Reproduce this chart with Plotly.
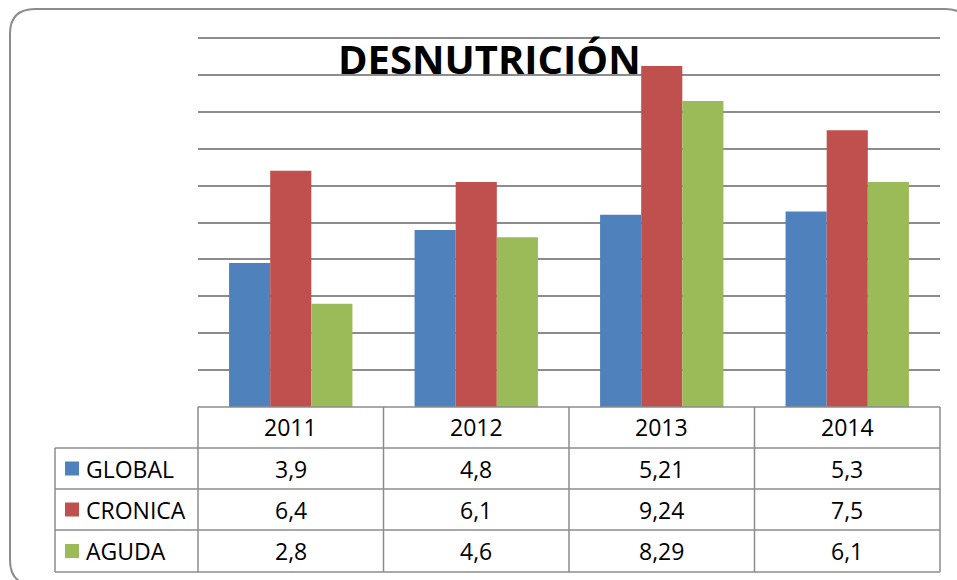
import plotly.graph_objects as go

categories = ["2011", "2012", "2013", "2014"]
series_names = ["GLOBAL", "CRONICA", "AGUDA"]
global_vals = [3.9, 4.8, 5.21, 5.3]
cronica_vals = [6.4, 6.1, 9.24, 7.5]
aguda_vals = [2.8, 4.6, 8.29, 6.1]
title_text = "DESNUTRICIÓN"

colors = ["#4F81BD", "#C0504D", "#9BBB59"]
series_vals = [global_vals, cronica_vals, aguda_vals]

W, H = 957, 580
L, R, T, B = 198, 940, 36, 407
YMAX = 10 + 2 / 36.9  # leave 2px above the top gridline so it is drawn
FONT = "Open Sans"
GRID = "#8c8c8c"
TSIZE = 23


def px_x(px):
    return (px - L) / (R - L)


def px_y(py):
    return (B - py) / (B - T)


fig = go.Figure()
for name, vals, c in zip(series_names, series_vals, colors):
    fig.add_trace(go.Bar(x=categories, y=vals, name=name, marker=dict(color=c, line=dict(width=0))))

shapes = []
annotations = []

# table geometry (pixels)
row_bounds = [407, 448, 489, 530, 572]
col_left = 55
col_bounds = [198, 383.5, 569, 754.5, 940]
line = dict(color=GRID, width=1.5)

for i, yb in enumerate(row_bounds):
    x0 = L if i == 0 else col_left
    shapes.append(dict(type="line", xref="paper", yref="paper", x0=px_x(x0), x1=px_x(R),
                       y0=px_y(yb), y1=px_y(yb), line=line))
for xb in col_bounds:
    shapes.append(dict(type="line", xref="paper", yref="paper", x0=px_x(xb), x1=px_x(xb),
                       y0=px_y(row_bounds[0]), y1=px_y(row_bounds[-1]), line=line))
shapes.append(dict(type="line", xref="paper", yref="paper", x0=px_x(col_left), x1=px_x(col_left),
                   y0=px_y(row_bounds[1]), y1=px_y(row_bounds[-1]), line=line))

# header years (category serial positions on the x axis)
for i, cat in enumerate(categories):
    annotations.append(dict(x=i, xref="x", y=px_y((row_bounds[0] + row_bounds[1]) / 2), yref="paper",
                            text=cat, showarrow=False, font=dict(family=FONT, size=TSIZE, color="#000"),
                            xanchor="center", yanchor="middle"))

# rows
for r, (name, vals, c) in enumerate(zip(series_names, series_vals, colors)):
    yc = (row_bounds[r + 1] + row_bounds[r + 2]) / 2
    shapes.append(dict(type="rect", xref="paper", yref="paper", x0=px_x(65), x1=px_x(79),
                       y0=px_y(yc - 7), y1=px_y(yc + 7), fillcolor=c, line=dict(width=0)))
    annotations.append(dict(x=px_x(84), xref="paper", y=px_y(yc), yref="paper", text=name,
                            showarrow=False, font=dict(family=FONT, size=TSIZE, color="#000"),
                            xanchor="left", yanchor="middle"))
    for i, v in enumerate(vals):
        annotations.append(dict(x=i, xref="x", y=px_y(yc), yref="paper",
                                text=str(v).replace(".", ","), showarrow=False,
                                font=dict(family=FONT, size=TSIZE, color="#000"),
                                xanchor="center", yanchor="middle"))

# title
annotations.append(dict(x=px_x(489), xref="paper", y=px_y(58), yref="paper", text="<b>" + title_text + "</b>",
                        showarrow=False, font=dict(family=FONT, size=40, color="#000"),
                        xanchor="center", yanchor="middle"))

# outer rounded border (extends past the right and bottom edges, as in the reference)
bx0, by0, bx1, by1, rad = 10, 9, 970, 585, 25
X = px_x
Y = px_y
path = (f"M {X(bx0 + rad)},{Y(by0)} L {X(bx1 - rad)},{Y(by0)} Q {X(bx1)},{Y(by0)} {X(bx1)},{Y(by0 + rad)} "
        f"L {X(bx1)},{Y(by1 - rad)} Q {X(bx1)},{Y(by1)} {X(bx1 - rad)},{Y(by1)} "
        f"L {X(bx0 + rad)},{Y(by1)} Q {X(bx0)},{Y(by1)} {X(bx0)},{Y(by1 - rad)} "
        f"L {X(bx0)},{Y(by0 + rad)} Q {X(bx0)},{Y(by0)} {X(bx0 + rad)},{Y(by0)} Z")
shapes.append(dict(type="path", xref="paper", yref="paper", path=path, line=dict(color="#8c8c8c", width=2)))

fig.update_layout(
    width=W, height=H,
    margin=dict(l=L, r=W - R, t=T, b=H - B),
    paper_bgcolor="white", plot_bgcolor="white",
    barmode="group", bargap=0.335, bargroupgap=0,
    showlegend=False,
    xaxis=dict(type="category", range=[-0.5, len(categories) - 0.5], showticklabels=False, showgrid=False,
               zeroline=False, showline=False, ticks=""),
    yaxis=dict(range=[0, YMAX], dtick=1, showticklabels=False, showgrid=True, gridcolor=GRID, gridwidth=1.5,
               zeroline=False, showline=False, ticks=""),
    shapes=shapes, annotations=annotations,
    font=dict(family=FONT),
)

fig.write_html("out.html", config={"displayModeBar": False},
               post_script="document.body.style.margin='0';document.body.style.overflow='hidden';")
